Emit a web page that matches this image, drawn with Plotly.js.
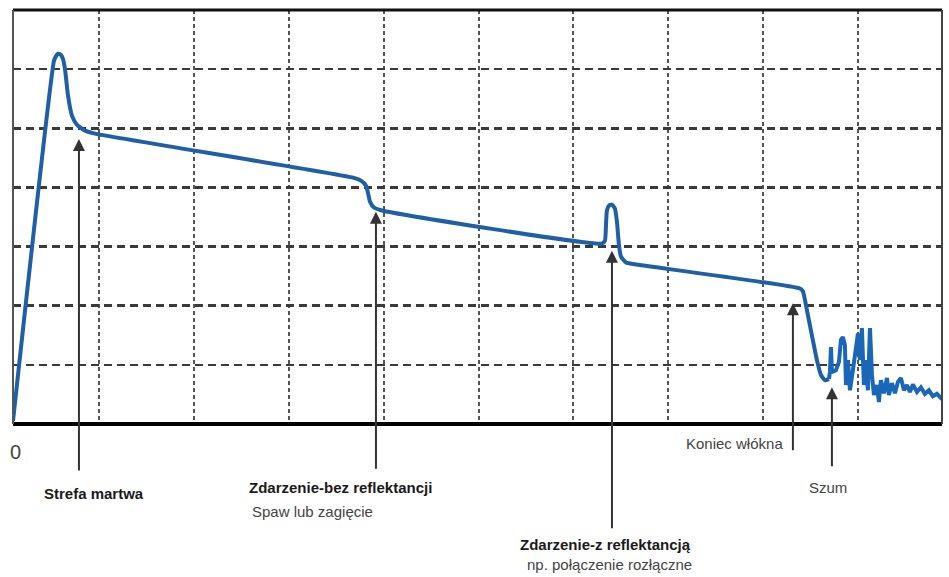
<!DOCTYPE html>
<html>
<head>
<meta charset="utf-8">
<script src="https://cdn.plot.ly/plotly-3.0.1.min.js"></script>
<style>html,body{margin:0;padding:0;background:#fff;} #chart{width:949px;height:577px;}</style>
</head>
<body>
<div id="chart"></div>
<script>
// OTDR trace: distance (grid units) vs level (grid units)
const traceX = [0, 0.432, 0.453, 0.474, 0.506, 0.527, 0.548, 0.580, 0.622, 0.674, 0.759, 0.864,
  3.583, 3.667, 3.720, 3.741, 3.762, 3.804, 3.888,
  6.206, 6.238, 6.249, 6.259, 6.280, 6.312, 6.344, 6.365, 6.386, 6.407, 6.460, 6.554,
  8.293, 8.325, 8.367, 8.419, 8.472, 8.514, 8.556, 8.599];
const traceY = [0.05, 6.14, 6.22, 6.26, 6.24, 6.17, 6.00, 5.55, 5.21, 5.06, 4.96, 4.91,
  4.165, 4.115, 4.03, 3.91, 3.76, 3.66, 3.61,
  3.05, 3.10, 3.36, 3.61, 3.69, 3.71, 3.64, 3.41, 3.02, 2.83, 2.73, 2.70,
  2.29, 2.24, 1.92, 1.50, 1.08, 0.83, 0.74, 0.76];
// Noise after fibre end
const noiseX = [8.599, 8.609, 8.620, 8.630, 8.672, 8.704, 8.725, 8.746, 8.767, 8.778, 8.799, 8.820,
  8.851, 8.883, 8.904, 8.925, 8.946, 8.967, 8.988, 9.009, 9.031, 9.052, 9.073, 9.104, 9.125,
  9.146, 9.178, 9.210, 9.230, 9.262, 9.294, 9.325, 9.357, 9.389, 9.420, 9.452, 9.483, 9.526,
  9.568, 9.610, 9.652, 9.694, 9.736, 9.789];
const noiseY = [0.76, 0.88, 1.30, 0.88, 0.91, 1.05, 1.42, 1.47, 1.33, 0.66, 1.08, 0.57,
  0.91, 1.33, 1.53, 1.08, 1.62, 0.66, 1.08, 0.57, 1.62, 0.83, 0.49, 0.66, 0.37,
  0.74, 0.52, 0.78, 0.49, 0.69, 0.52, 0.71, 0.78, 0.57, 0.66, 0.54, 0.67, 0.54,
  0.62, 0.51, 0.57, 0.47, 0.51, 0.42];

// Event arrows: x position, arrow tip level, arrow tail level
const arrowX = [0.695, 3.825, 6.312, 8.219, 8.630];
const arrowTip = [4.82, 3.59, 2.93, 2.04, 0.62];
const arrowTail = [-0.81, -0.78, -1.79, -0.47, -0.74];

// Labels (x in distance units, y as fraction of plot height)
const labelText = ["0", "Strefa martwa", "Zdarzenie-bez reflektancji", "Spaw lub zagięcie",
  "Zdarzenie-z reflektancją", "np. połączenie rozłączne", "Koniec włókna", "Szum"];
const labelX = [0.03, 0.854, 3.456, 2.497, 6.249, 6.291, 8.135, 8.588];
const labelY = [-0.067, -0.169, -0.154, -0.211, -0.291, -0.340, -0.046, -0.154];
const labelBold = [false, true, true, false, true, false, false, false];
const labelAnchor = ["center", "center", "center", "left", "center", "center", "right", "center"];

const lineColor = "#1f5fa6";

const data = [
  {x: traceX, y: traceY, type: "scatter", mode: "lines",
   line: {color: lineColor, width: 4, shape: "spline", smoothing: 0.5}, hoverinfo: "skip"},
  {x: noiseX, y: noiseY, type: "scatter", mode: "lines",
   line: {color: "#1a66b8", width: 4}, hoverinfo: "skip"}
];

const annotations = [];
arrowX.forEach((ax, i) => {
  annotations.push({x: ax, y: arrowTip[i], ax: ax, ay: arrowTail[i], xref: "x", yref: "y",
    axref: "x", ayref: "y", text: "", showarrow: true, arrowhead: 2, arrowsize: 1.2,
    arrowwidth: 2, arrowcolor: "#333", standoff: 0, startstandoff: 0});
});
labelText.forEach((t, i) => {
  annotations.push({x: labelX[i], y: labelY[i], xref: "x", yref: "paper", showarrow: false,
    text: labelBold[i] ? "<b>" + t + "</b>" : t, xanchor: labelAnchor[i], yanchor: "middle",
    font: {family: "Liberation Sans, Arial, sans-serif", size: i === 0 ? 20 : 15,
      color: labelBold[i] ? "#1a1a1a" : "#444"}});
});

const layout = {
  width: 949, height: 577,
  margin: {l: 13, r: 7, t: 10, b: 153},
  paper_bgcolor: "#fff", plot_bgcolor: "#fff",
  showlegend: false,
  xaxis: {range: [0, 9.79], tick0: 0.906, dtick: 1, showticklabels: false, ticks: "",
    showgrid: true, gridcolor: "#555", gridwidth: 2, griddash: "4px,3px",
    zeroline: false, showline: false, fixedrange: true},
  yaxis: {range: [0, 7], tick0: 0, dtick: 1, showticklabels: false, ticks: "",
    showgrid: true, gridcolor: "#3a3a3a", gridwidth: 2.5, griddash: "8px,5px",
    zeroline: false, showline: false, fixedrange: true},
  shapes: [
    {type: "line", xref: "paper", yref: "paper", x0: 0, x1: 1, y0: 1, y1: 1, line: {color: "#111", width: 3}},
    {type: "line", xref: "paper", yref: "paper", x0: 0, x1: 1, y0: 0, y1: 0, line: {color: "#000", width: 4}},
    {type: "line", xref: "paper", yref: "paper", x0: 0, x1: 0, y0: 0, y1: 1, line: {color: "#555", width: 2}},
    {type: "line", xref: "paper", yref: "paper", x0: 1, x1: 1, y0: 0, y1: 1, line: {color: "#444", width: 2}}
  ],
  annotations: annotations
};

Plotly.newPlot("chart", data, layout, {displayModeBar: false, staticPlot: true});
</script>
</body>
</html>
